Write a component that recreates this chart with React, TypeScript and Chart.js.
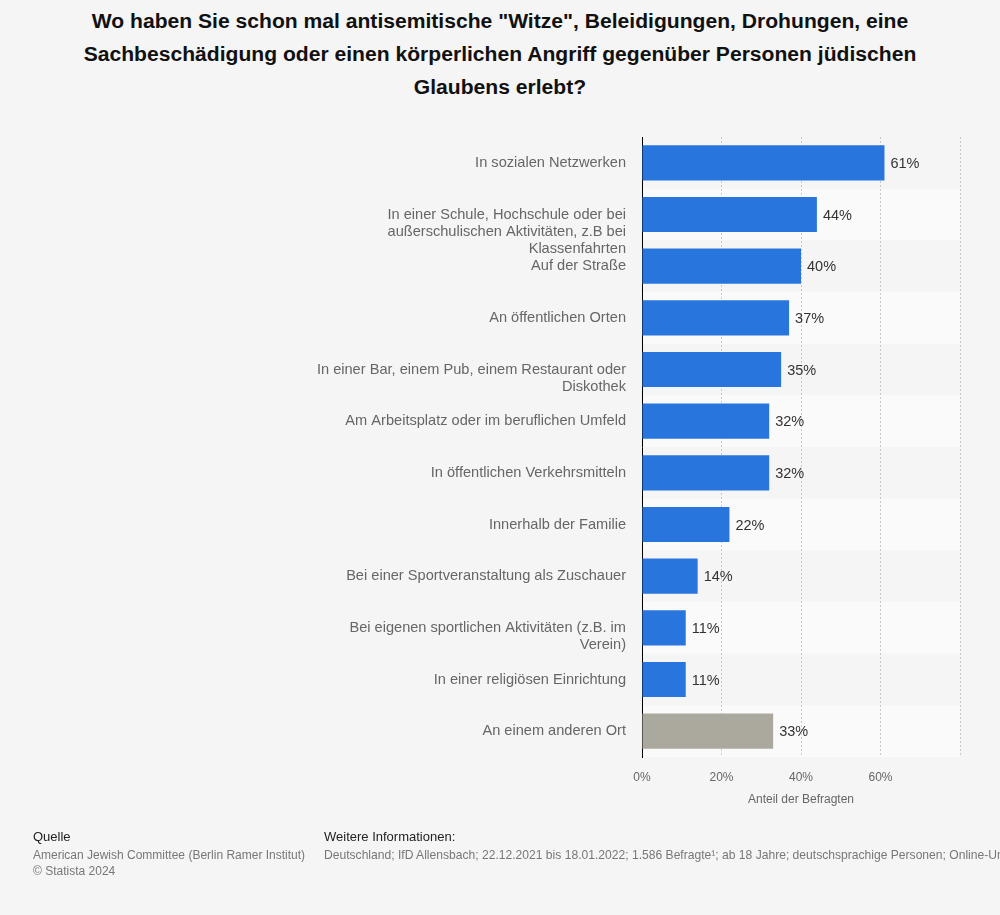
import React, { useEffect, useRef } from "react";
import { Chart, registerables } from "chart.js";

Chart.register(...registerables);

const categories: string[][] = [
  ["In sozialen Netzwerken"],
  ["In einer Schule, Hochschule oder bei", "außerschulischen Aktivitäten, z.B bei", "Klassenfahrten"],
  ["Auf der Straße"],
  ["An öffentlichen Orten"],
  ["In einer Bar, einem Pub, einem Restaurant oder", "Diskothek"],
  ["Am Arbeitsplatz oder im beruflichen Umfeld"],
  ["In öffentlichen Verkehrsmitteln"],
  ["Innerhalb der Familie"],
  ["Bei einer Sportveranstaltung als Zuschauer"],
  ["Bei eigenen sportlichen Aktivitäten (z.B. im", "Verein)"],
  ["In einer religiösen Einrichtung"],
  ["An einem anderen Ort"],
];

const values: number[] = [61, 44, 40, 37, 35, 32, 32, 22, 14, 11, 11, 33];

const xTicks: number[] = [0, 20, 40, 60, 80];

const titleLines: string[] = [
  'Wo haben Sie schon mal antisemitische "Witze", Beleidigungen, Drohungen, eine',
  "Sachbeschädigung oder einen körperlichen Angriff gegenüber Personen jüdischen",
  "Glaubens erlebt?",
];

const BLUE = "#2876dd";
const GREY = "#aba99e";
const FONT = "'Liberation Sans', Arial, Helvetica, sans-serif";

const bandPlugin = {
  id: "bands",
  beforeDraw(chart: any) {
    const { ctx, chartArea, scales } = chart;
    const y = scales.y;
    ctx.save();
    categories.forEach((_, i) => {
      if (i % 2 === 1) {
        const c = y.getPixelForValue(i);
        const half = (y.getPixelForValue(1) - y.getPixelForValue(0)) / 2;
        ctx.fillStyle = "#fafafa";
        ctx.fillRect(chartArea.left, c - half, chartArea.right - chartArea.left, half * 2);
      }
    });
    ctx.restore();
  },
};

const valueLabelPlugin = {
  id: "valueLabels",
  afterDatasetsDraw(chart: any) {
    const { ctx } = chart;
    const meta = chart.getDatasetMeta(0);
    ctx.save();
    ctx.font = `14.5px ${FONT}`;
    ctx.fillStyle = "#333333";
    ctx.textAlign = "left";
    ctx.textBaseline = "middle";
    meta.data.forEach((bar: any, i: number) => {
      ctx.fillText(`${values[i]}%`, bar.x + 6, bar.y + 1);
    });
    ctx.restore();
  },
};

export default function App() {
  const ref = useRef<HTMLCanvasElement | null>(null);

  useEffect(() => {
    if (!ref.current) return;
    const chart = new Chart(ref.current, {
      type: "bar",
      data: {
        labels: categories.map((l) => [...Array(l.length - 1).fill(""), ...l]),
        datasets: [
          {
            data: values,
            backgroundColor: values.map((_, i) => (i === values.length - 1 ? GREY : BLUE)),
            barPercentage: 0.68,
            categoryPercentage: 1,
          },
        ],
      },
      options: {
        indexAxis: "y",
        animation: false,
        responsive: false,
        maintainAspectRatio: false,
        layout: { padding: { top: 137, right: 40, bottom: 98, left: 0 } },
        plugins: {
          legend: { display: false },
          tooltip: { enabled: false },
          title: { display: false },
        },
        scales: {
          x: {
            min: 0,
            max: 80,
            afterBuildTicks(scale: any) {
              scale.ticks = xTicks.map((v) => ({ value: v }));
            },
            afterFit(scale: any) {
              scale.height = 60;
            },
            ticks: {
              padding: 13,
              color: "#666666",
              font: { family: FONT, size: 12 },
              callback: (v: any) => (v === 80 ? "" : `${v}%`),
            },
            grid: {
              drawTicks: false,
              color: "#c8c8c8",
              lineWidth: 1,
            },
            border: { display: false, dash: [2, 2] },
            title: {
              display: true,
              text: "Anteil der Befragten",
              color: "#666666",
              font: { family: FONT, size: 12 },
              padding: { top: 4, bottom: 10 },
            },
          },
          y: {
            afterFit(scale: any) {
              scale.width = 642;
            },
            ticks: {
              padding: 16,
              color: "#666666",
              font: { family: FONT, size: 14.6, lineHeight: 1.18 },
              autoSkip: false,
            },
            grid: { display: false, drawTicks: false },
            border: { display: true, color: "#000000", width: 1 },
          },
        },
      },
      plugins: [bandPlugin, valueLabelPlugin],
    });
    return () => chart.destroy();
  }, []);

  return (
    <div
      style={{
        position: "absolute",
        left: 0,
        top: 0,
        width: 1000,
        height: 915,
        background: "#f5f5f5",
        fontFamily: FONT,
        overflow: "hidden",
      }}
    >
      <div
        style={{
          position: "absolute",
          top: 4,
          left: 0,
          width: 1000,
          textAlign: "center",
          fontWeight: "bold",
          fontSize: 21.1,
          lineHeight: "33px",
          color: "#111111",
          whiteSpace: "nowrap",
        }}
      >
        {titleLines.map((t, i) => (
          <div key={i}>{t}</div>
        ))}
      </div>
      <canvas ref={ref} width={1000} height={915} style={{ position: "absolute", left: 0, top: 0 }} />
      <div style={{ position: "absolute", left: 33, top: 829, fontSize: 13, color: "#222222" }}>Quelle</div>
      <div style={{ position: "absolute", left: 33, top: 847, fontSize: 12, lineHeight: "16px", color: "#777777" }}>
        <div>American Jewish Committee (Berlin Ramer Institut)</div>
        <div>© Statista 2024</div>
      </div>
      <div style={{ position: "absolute", left: 324, top: 829, fontSize: 13, color: "#222222" }}>
        Weitere Informationen:
      </div>
      <div
        style={{
          position: "absolute",
          left: 324,
          top: 847,
          fontSize: 12.1,
          lineHeight: "16px",
          color: "#777777",
          whiteSpace: "nowrap",
        }}
      >
        Deutschland; IfD Allensbach; 22.12.2021 bis 18.01.2022; 1.586 Befragte¹; ab 18 Jahre; deutschsprachige Personen; Online-Umfrage
      </div>
    </div>
  );
}
